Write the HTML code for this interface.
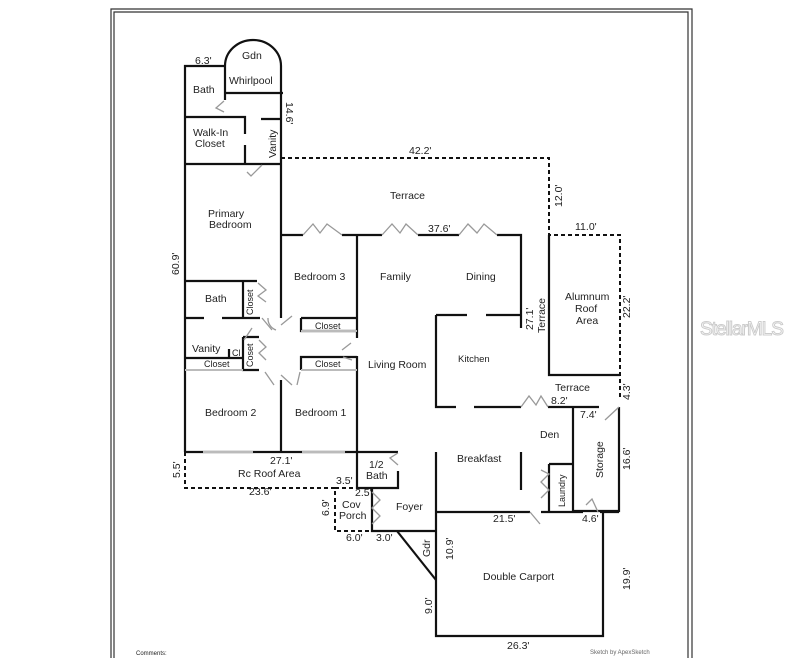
<!DOCTYPE html>
<html><head><meta charset="utf-8"><style>
html,body{margin:0;padding:0;background:#fff;}
svg{display:block;}
text{font-family:"Liberation Sans",sans-serif;font-size:10.5px;fill:#222;}
.w{stroke:#111;stroke-width:2.2;fill:none;}
.d{stroke:#111;stroke-width:2;fill:none;stroke-dasharray:4,3;}
.g{stroke:#999;stroke-width:1.3;fill:none;}
.gw{stroke:#bbb;stroke-width:2;fill:none;}
</style></head><body>
<svg width="796" height="658" viewBox="0 0 796 658">
<path d="M111 658 V9 H692 V658" stroke="#333" stroke-width="1.2" fill="none"/>
<path d="M114 658 V12 H688 V658" stroke="#333" stroke-width="1.2" fill="none"/>

<path class="w" d="M185 452 V66 H225"/>
<path class="w" d="M225 66 A28 26 0 0 1 281 66 V235"/>
<path class="w" d="M225 66 V100 M224 93 H283"/>
<path class="w" d="M185 117 H245 V134 M245 145 V164 M185 164 H281 M261 119 H281"/>
<path class="g" d="M224 101 L216 108 L224 112 M262 165 L251 176 L247 172"/>
<path class="w" d="M185 281 H257 M243 281 V318 M185 318 H204 M222 318 H260"/>
<path class="w" d="M185 358 H243 M229 349 V358 M243 337 H259 M243 337 V370 H259"/>
<path class="gw" d="M185 370 H243"/>
<path class="w" d="M281 235 V318 M281 380 V452"/>
<path class="w" d="M357 235 V338 M357 356 V452"/>
<path class="w" d="M301 318 H357 M301 318 V331 H357 M301 370 V357 H357"/>
<path class="gw" d="M301 331 H357 M301 370 H357"/>
<path class="w" d="M185 452 H357"/>
<path class="gw" d="M203 452 H253 M302 452 H345"/>
<path class="g" d="M258 283 L266 290 L258 296 L266 302 M259 340 L266 347 L259 353 L266 360 M262 318 L272 330 M244 340 L252 328 M281 325 L292 316 M265 372 L274 385 M281 375 L292 385 M297 385 L300 372 M342 350 L351 343 M343 357 L352 360 M268 318 A12 12 0 0 0 276 330"/>
<path class="d" d="M185 452 V488 H335 V531 H372 M335 488 H357"/>
<path class="w" d="M357 452 H398 M398 471 V488 H357 V452 M372 488 V531 H436"/>
<path class="g" d="M398 453 L390 458 L398 465 M372 492 L380 500 L372 508 L380 516 L372 524"/>
<path class="d" d="M281 158 H549 V235 H620 V400"/>
<path class="w" d="M281 235 H303 M342 235 H382 M418 235 H459 M497 235 H521 V328"/>
<path class="g" d="M303 235 L313 224 L320 233 L327 224 L342 235 M382 235 L392 224 L400 233 L406 224 L418 235 M459 235 L468 224 L477 233 L484 224 L497 235"/>
<path class="w" d="M549 235 V375 H620"/>
<path class="w" d="M436 315 H467 M486 315 H521 M436 315 V407 H456 M474 407 H521"/>
<path class="w" d="M548 407 H599 M573 407 V511 H619 V407"/>
<path class="g" d="M521 407 L529 396 L536 405 L541 396 L548 407 M605 420 L619 407"/>
<path class="w" d="M436 452 V636 H603 V512 M436 512 H530 M541 512 H583 M600 512 H619 M521 452 V490 M549 464 H573 M549 464 V512"/>
<path class="g" d="M530 512 L540 524 M541 470 L549 474 L541 482 L549 490 L541 498 M586 505 L592 499 L598 512"/>
<path class="w" d="M397 531 L436 580"/>

<text x="195" y="64">6.3'</text>
<text x="242" y="59">Gdn</text>
<text x="229" y="84">Whirlpool</text>
<text x="193" y="93">Bath</text>
<text x="193" y="136">Walk-In</text>
<text x="195" y="147">Closet</text>
<text transform="translate(276,158) rotate(-90)">Vanity</text>
<text transform="translate(286,102) rotate(90)">14.6'</text>
<text x="409" y="154">42.2'</text>
<text x="390" y="199">Terrace</text>
<text x="208" y="217">Primary</text>
<text x="209" y="228">Bedroom</text>
<text x="428" y="232">37.6'</text>
<text transform="translate(179,275) rotate(-90)">60.9'</text>
<text x="294" y="280">Bedroom 3</text>
<text x="380" y="280">Family</text>
<text x="466" y="280">Dining</text>
<text x="205" y="302">Bath</text>
<text transform="translate(253,315) rotate(-90)" style="font-size:9px">Closet</text>
<text x="315" y="329" style="font-size:9px">Closet</text>
<text x="192" y="352">Vanity</text>
<text x="232" y="356" style="font-size:9px">Cl</text>
<text transform="translate(253,367) rotate(-90)" style="font-size:9px">Coset</text>
<text x="204" y="367" style="font-size:9px">Closet</text>
<text x="315" y="367" style="font-size:9px">Closet</text>
<text x="368" y="368">Living Room</text>
<text x="458" y="362" style="font-size:9.5px">Kitchen</text>
<text x="205" y="416">Bedroom 2</text>
<text x="295" y="416">Bedroom 1</text>
<text x="270" y="464">27.1'</text>
<text x="238" y="477">Rc Roof Area</text>
<text transform="translate(180,478) rotate(-90)">5.5'</text>
<text x="336" y="484">3.5'</text>
<text x="369" y="468">1/2</text>
<text x="366" y="479">Bath</text>
<text x="249" y="495">23.6'</text>
<text x="355" y="496">2.5'</text>
<text x="342" y="508">Cov</text>
<text x="339" y="519">Porch</text>
<text x="396" y="510">Foyer</text>
<text transform="translate(329,516) rotate(-90)">6.9'</text>
<text x="346" y="541">6.0'</text>
<text x="376" y="541">3.0'</text>
<text transform="translate(430,557) rotate(-90)">Gdr</text>
<text transform="translate(453,560) rotate(-90)">10.9'</text>
<text transform="translate(562,207) rotate(-90)">12.0'</text>
<text x="575" y="230">11.0'</text>
<text x="565" y="300">Alumnum</text>
<text x="575" y="312">Roof</text>
<text x="576" y="324">Area</text>
<text transform="translate(630,318) rotate(-90)">22.2'</text>
<text transform="translate(533,330) rotate(-90)">27.1'</text>
<text transform="translate(545,333) rotate(-90)">Terrace</text>
<text x="555" y="391">Terrace</text>
<text x="551" y="404">8.2'</text>
<text transform="translate(630,400) rotate(-90)">4.3'</text>
<text x="580" y="418">7.4'</text>
<text x="540" y="438">Den</text>
<text x="457" y="462">Breakfast</text>
<text transform="translate(603,478) rotate(-90)">Storage</text>
<text transform="translate(630,470) rotate(-90)">16.6'</text>
<text transform="translate(565,507) rotate(-90)" style="font-size:9px">Laundry</text>
<text x="493" y="522">21.5'</text>
<text x="582" y="522">4.6'</text>
<text x="483" y="580">Double Carport</text>
<text transform="translate(630,590) rotate(-90)">19.9'</text>
<text transform="translate(432,614) rotate(-90)">9.0'</text>
<text x="507" y="649">26.3'</text>
<text x="136" y="655" style="font-size:6px">Comments:</text>
<text x="590" y="654" style="font-size:6px;fill:#666">Sketch by ApexSketch</text>
<text x="700" y="335" style="font-size:19px;fill:#fff;stroke:#ccc;stroke-width:1;letter-spacing:-1px">StellarMLS</text>
</svg>
</body></html>
